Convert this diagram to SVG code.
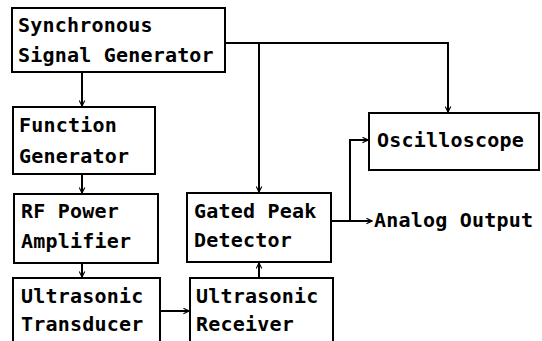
<svg xmlns="http://www.w3.org/2000/svg" width="542" height="341" viewBox="0 0 542 341">
  <defs>
    <marker id="arrow" viewBox="0 0 10 10" refX="9" refY="5" markerWidth="7" markerHeight="7" markerUnits="userSpaceOnUse" orient="auto">
      <path d="M1,1 L9,5 L1,9" fill="none" stroke="#000" stroke-width="1.6"/>
    </marker>
  </defs>
  <style>
    .box { fill: #fff; stroke: #000; stroke-width: 2; }
    .lbl { font-family: "DejaVu Sans Mono", "Liberation Mono", monospace; font-size: 20px; font-weight: bold; letter-spacing: 0.2px; fill: #000; }
    .wire { fill: none; stroke: #000; stroke-width: 2; }
  </style>
  <rect width="542" height="341" fill="#fff"/>

  <g id="connectors">
    <path class="wire" d="M82,73 V106" marker-end="url(#arrow)"/>
    <path class="wire" d="M82,174 V193" marker-end="url(#arrow)"/>
    <path class="wire" d="M82,263 V277" marker-end="url(#arrow)"/>
    <path class="wire" d="M160,311 H189" marker-end="url(#arrow)"/>
    <path class="wire" d="M259,278 V263" marker-end="url(#arrow)"/>
    <path class="wire" d="M225,43 H448 V112" marker-end="url(#arrow)"/>
    <path class="wire" d="M259,43 V192" marker-end="url(#arrow)"/>
    <path class="wire" d="M331,221 H372" marker-end="url(#arrow)"/>
    <path class="wire" d="M350,221 V140 H368" marker-end="url(#arrow)"/>
  </g>

  <g id="sync-gen">
    <rect class="box" x="12" y="8" width="213" height="64"/>
    <text class="lbl" x="18" y="32">Synchronous</text>
    <text class="lbl" x="18" y="62">Signal Generator</text>
  </g>
  <g id="function-gen">
    <rect class="box" x="13" y="107" width="142" height="67"/>
    <text class="lbl" x="19" y="132">Function</text>
    <text class="lbl" x="19" y="163">Generator</text>
  </g>
  <g id="rf-amp">
    <rect class="box" x="14" y="194" width="144" height="69"/>
    <text class="lbl" x="21" y="218">RF Power</text>
    <text class="lbl" x="21" y="248">Amplifier</text>
  </g>
  <g id="transducer">
    <rect class="box" x="13" y="278" width="147" height="65"/>
    <text class="lbl" x="21" y="303">Ultrasonic</text>
    <text class="lbl" x="21" y="331">Transducer</text>
  </g>
  <g id="peak-detector">
    <rect class="box" x="187" y="193" width="144" height="69"/>
    <text class="lbl" x="194" y="218">Gated Peak</text>
    <text class="lbl" x="194" y="247">Detector</text>
  </g>
  <g id="receiver">
    <rect class="box" x="190" y="278" width="143" height="65"/>
    <text class="lbl" x="196" y="303">Ultrasonic</text>
    <text class="lbl" x="196" y="331">Receiver</text>
  </g>
  <g id="oscilloscope">
    <rect class="box" x="369" y="113" width="170" height="57"/>
    <text class="lbl" x="377" y="147">Oscilloscope</text>
  </g>
  <g id="analog-output">
    <text class="lbl" x="374" y="227">Analog Output</text>
  </g>
</svg>
